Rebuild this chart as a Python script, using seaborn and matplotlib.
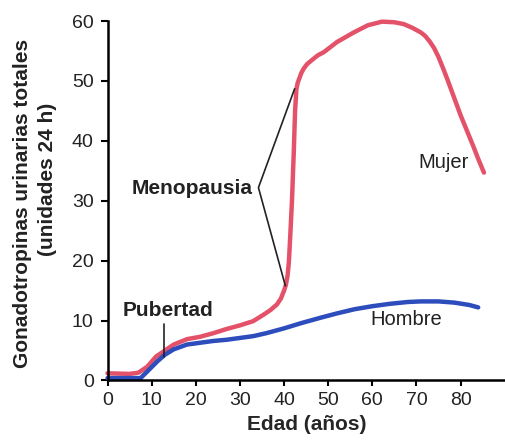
import matplotlib
matplotlib.use("Agg")
import matplotlib.pyplot as plt
import seaborn as sns
import pandas as pd

# Data
mujer_edad = [0, 5, 7, 9, 11, 13, 15, 18, 21, 24, 27, 30, 33, 35.4, 37, 38.4, 39.3,
              40, 40.4, 40.8, 41.1, 41.4, 41.8, 42.2, 42.5, 42.8, 43.1, 43.5, 43.9,
              44.4, 45.2, 46.5, 47.7, 49, 52, 55.8, 59, 62.2, 65, 67.1, 69, 71, 72,
              73, 74, 75, 76, 77, 78, 79, 80, 81, 82, 83, 84, 85.3]
mujer_val = [1.2, 1.1, 1.3, 2.3, 4.0, 5.0, 6.0, 6.9, 7.3, 7.9, 8.6, 9.2, 9.9, 11.0,
             11.8, 12.7, 13.7, 15.0, 15.9, 17.5, 19.8, 24, 30, 38, 45, 48.6, 49.7,
             50.5, 51.3, 52.0, 52.8, 53.6, 54.3, 54.8, 56.5, 58.1, 59.3, 59.9, 59.8,
             59.5, 58.9, 58.1, 57.5, 56.6, 55.5, 54.0, 52.2, 50.3, 48.3, 46.3, 44.3,
             42.5, 40.7, 38.9, 37.0, 34.7]

hombre_edad = [0, 5, 7.5, 9, 11.3, 13, 15, 18, 21, 24, 27, 30, 33, 36, 40, 44, 48.4,
               52, 56, 60, 64, 68, 71, 75, 78.6, 82, 84]
hombre_val = [0.4, 0.4, 0.4, 1.5, 3.2, 4.3, 5.2, 6.0, 6.3, 6.6, 6.8, 7.1, 7.4, 7.9,
              8.7, 9.6, 10.5, 11.2, 11.9, 12.4, 12.8, 13.1, 13.2, 13.2, 13.0, 12.6, 12.2]

x_ticks = [0, 10, 20, 30, 40, 50, 60, 70, 80]
y_ticks = [0, 10, 20, 30, 40, 50, 60]

serie_nombres = ["Mujer", "Hombre"]
colores = {"Mujer": "#e4526a", "Hombre": "#2d4dbd"}

df = pd.concat([
    pd.DataFrame({"edad": mujer_edad, "valor": mujer_val, "sexo": "Mujer"}),
    pd.DataFrame({"edad": hombre_edad, "valor": hombre_val, "sexo": "Hombre"}),
], ignore_index=True)

sns.set_theme(style="ticks")
plt.rcParams["font.family"] = ["Liberation Sans", "DejaVu Sans"]

fig = plt.figure(figsize=(5.06, 4.48), dpi=100)
ax = fig.add_axes([0.2125, 0.1507, 0.7875, 0.8023])

sns.lineplot(data=df, x="edad", y="valor", hue="sexo", hue_order=serie_nombres,
             palette=colores, estimator=None, sort=False, linewidth=3.2,
             legend=False, ax=ax)
for ln in ax.lines:
    ln.set_solid_capstyle("round")
    ln.set_solid_joinstyle("round")
    ln.set_clip_on(False)

ax.set_xlim(0, 90.3)
ax.set_ylim(0, 60)
ax.set_xticks(x_ticks)
ax.set_yticks(y_ticks)
ax.set_xlabel("Edad (años)", fontsize=15, fontweight="bold", labelpad=4)
ax.set_ylabel("")

for s in ["top", "right"]:
    ax.spines[s].set_visible(False)
for s in ["left", "bottom"]:
    ax.spines[s].set_color("black")
    ax.spines[s].set_linewidth(1.8)
ax.tick_params(axis="both", direction="out", color="black", labelsize=14,
               labelcolor="#222222")
ax.tick_params(axis="x", length=4.5, width=1.5, pad=4)
ax.tick_params(axis="y", length=5, width=1.5, pad=5)

# Y-axis label lines
fig.text(0.045, 0.547, "Gonadotropinas urinarias totales", rotation=90,
         ha="center", va="center", fontsize=15, fontweight="bold", color="#222222")
fig.text(0.093, 0.600, "(unidades 24 h)", rotation=90,
         ha="center", va="center", fontsize=15, fontweight="bold", color="#222222")

# Annotations
ax.text(32.9, 32.0, "Menopausia", ha="right", va="center", fontsize=15,
        fontweight="bold", color="#222222")
ax.plot([42.4, 34.2, 40.3], [48.7, 32.2, 15.8], color="#222222", lw=1.2)

ax.text(13.8, 11.7, "Pubertad", ha="center", va="center", fontsize=15,
        fontweight="bold", color="#222222")
ax.plot([12.8, 12.8], [9.4, 3.9], color="#222222", lw=1.2)

ax.text(76.2, 36.4, "Mujer", ha="center", va="center", fontsize=14.5, color="#222222")
ax.text(67.6, 10.1, "Hombre", ha="center", va="center", fontsize=14.5, color="#222222")

fig.savefig("out.png", dpi=100)
